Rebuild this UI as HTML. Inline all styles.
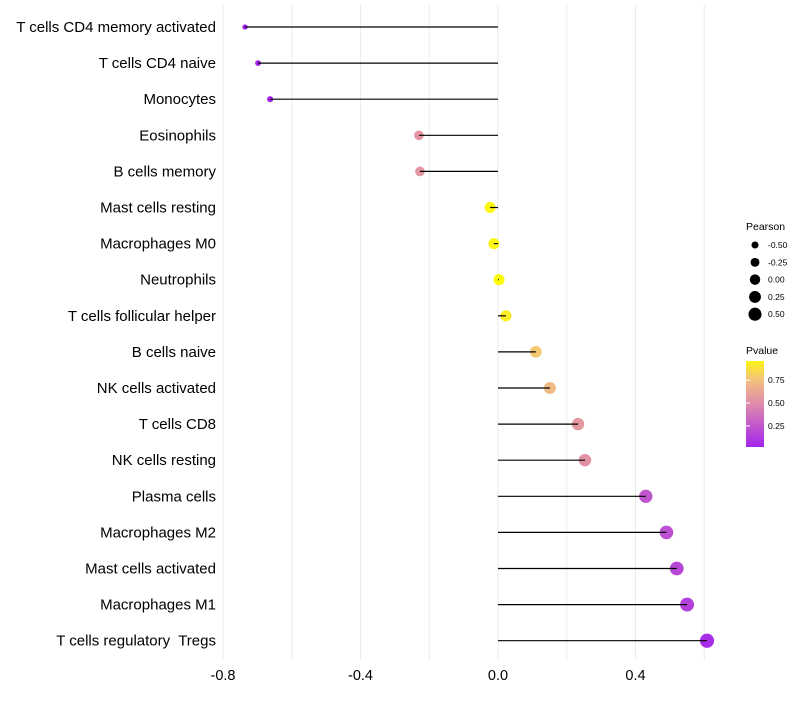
<!DOCTYPE html>
<html><head><meta charset="utf-8"><style>
body{margin:0;background:#fff;font-family:"Liberation Sans",sans-serif}
text{white-space:pre}
</style></head><body>
<svg id="chart" width="800" height="700" xmlns="http://www.w3.org/2000/svg">
<g id="grid"></g><g id="marks"></g><g id="labels"></g><g id="legend"></g>
</svg>
<script>
const categories=["T cells CD4 memory activated","T cells CD4 naive","Monocytes","Eosinophils","B cells memory","Mast cells resting","Macrophages M0","Neutrophils","T cells follicular helper","B cells naive","NK cells activated","T cells CD8","NK cells resting","Plasma cells","Macrophages M2","Mast cells activated","Macrophages M1","T cells regulatory  Tregs"];
const pearson=[-0.736,-0.698,-0.663,-0.23,-0.227,-0.023,-0.012,0.003,0.023,0.11,0.151,0.233,0.253,0.43,0.49,0.52,0.55,0.608];
const pvalues=[0.01,0.01,0.02,0.55,0.55,0.97,0.97,0.99,0.93,0.78,0.72,0.56,0.53,0.25,0.22,0.18,0.15,0.06];
const xTicks=[-0.8,-0.4,0.0,0.4];
const xTickLabels=["-0.8","-0.4","0.0","0.4"];
const sizeBreaks=[-0.5,-0.25,0,0.25,0.5];
const colorBreaks=[0.25,0.5,0.75];

const NS="http://www.w3.org/2000/svg";
const x=v=>498+v*343.75;
const y=i=>27+i*36.1;
const r=v=>Math.sqrt(Math.max(6,30.7+32*v));
const stops=[[0,[160,32,240]],[0.5,[224,140,170]],[0.75,[242,192,128]],[1,[255,255,0]]];
function col(p){for(let k=1;k<stops.length;k++){if(p<=stops[k][0]){const a=stops[k-1],b=stops[k];const t=(p-a[0])/(b[0]-a[0]);const c=a[1].map((q,j)=>Math.round(q+(b[1][j]-q)*t));return `rgb(${c})`;}}return "rgb(255,255,0)";}
function mk(t,attrs,parent){const e=document.createElementNS(NS,t);for(const k in attrs)e.setAttribute(k,attrs[k]);document.getElementById(parent).appendChild(e);return e;}

for(let v=-0.8;v<=0.61;v+=0.2){const g=mk("line",{x1:x(v),x2:x(v),y1:5,y2:660,stroke:"#ebebeb","stroke-width":1},"grid");

}
xTicks.forEach((t,i)=>{const e=mk("text",{x:x(t),y:680,"text-anchor":"middle","font-size":14.5,fill:"#000"},"labels");e.textContent=xTickLabels[i];

});
categories.forEach((c,i)=>{
const l=mk("text",{x:216,y:y(i)+5,"text-anchor":"end","font-size":15,fill:"#000"},"labels");l.textContent=c;


const cc=mk("circle",{cx:x(pearson[i]),cy:y(i),r:r(pearson[i]),fill:col(pvalues[i])},"marks");


const s=mk("line",{x1:x(0),x2:x(pearson[i]),y1:y(i),y2:y(i),stroke:"#000","stroke-width":1.2},"marks");


});
// legend
const lt=mk("text",{x:746,y:230,"font-size":10.5},"legend");lt.textContent="Pearson";


sizeBreaks.forEach((b,i)=>{const cy=245+i*17.3;
const c=mk("circle",{cx:755,cy:cy,r:r(b)-0.3,fill:"#000"},"legend");


const t=mk("text",{x:768,y:cy+3,"font-size":8.5},"legend");t.textContent=b.toFixed(2);

});
const pt=mk("text",{x:746,y:354,"font-size":10.5},"legend");pt.textContent="Pvalue";


const defs=mk("defs",{},"legend");
const lg=document.createElementNS(NS,"linearGradient");lg.setAttribute("id","pg");lg.setAttribute("x1","0");lg.setAttribute("y1","1");lg.setAttribute("x2","0");lg.setAttribute("y2","0");defs.appendChild(lg);
const p0=0.02,p1=0.96;
for(let k=0;k<=10;k++){const p=p0+(p1-p0)*k/10;const st=document.createElementNS(NS,"stop");st.setAttribute("offset",k/10);st.setAttribute("stop-color",col(p));lg.appendChild(st);}
const bar=mk("rect",{x:746,y:361,width:18,height:86,fill:"url(#pg)"},"legend");


const py=p=>447-(p-p0)/(p1-p0)*86;
colorBreaks.forEach(b=>{const t=mk("text",{x:768,y:py(b)+3,"font-size":8.5},"legend");t.textContent=b.toFixed(2);


const tk=mk("line",{x1:746,x2:750,y1:py(b),y2:py(b),stroke:"#fff"},"legend");

});
</script>
</body></html>
